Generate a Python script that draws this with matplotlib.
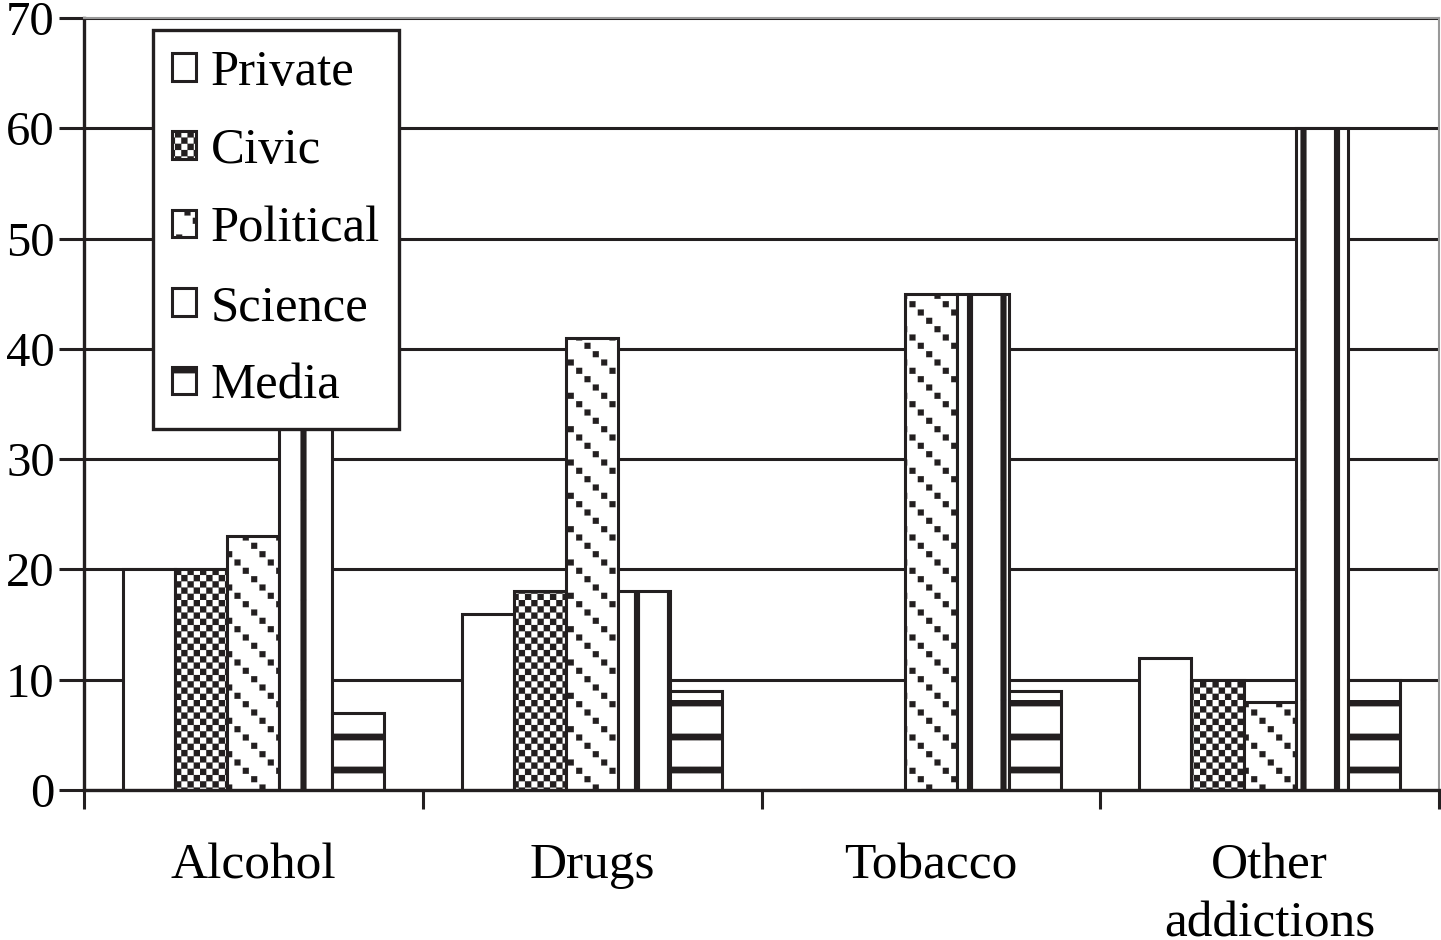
import warnings
import numpy as np
import matplotlib
matplotlib.use("Agg")
import matplotlib.pyplot as plt
import matplotlib.hatch as mhatch
from matplotlib.path import Path

warnings.filterwarnings("ignore")

# ---------------- DATA ----------------
categories = ["Alcohol", "Drugs", "Tobacco", "Other\naddictions"]
series = ["Private", "Civic", "Political", "Science", "Media"]
private = [20, 16, 0, 12]
civic = [20, 18, 0, 10]
political = [23, 41, 45, 8]
science = [35, 18, 45, 60]
media = [7, 9, 9, 10]
y_ticks = [0, 10, 20, 30, 40, 50, 60, 70]


# --------------- HATCHES ----------------
# excel style block patterns, drawn as filled rectangles in the 100px hatch cell
class BlockHatch(mhatch.HatchPatternBase):
    def __init__(self, hatch, density):
        rects = []
        if "c" in hatch:  # checkerboard
            n = 16
            for i in range(n):
                for j in range(n):
                    if (i + j) % 2 == 0:
                        rects.append((i / n, j / n, (i + 1) / n, (j + 1) / n))
        if "d" in hatch:  # dotted diagonal lines
            n = 12
            s = 0.06
            for i in range(n):
                for k in range(3):
                    j = (4 * k - i) % n
                    cx, cy = (i + 0.5) / n, (j + 0.5) / n
                    rects.append((cx - s / 2, cy - s / 2, cx + s / 2, cy + s / 2))
        if "v" in hatch:  # thick vertical lines
            for c in [0.035, 0.37, 0.70]:
                rects.append((c - 0.03, 0.0, c + 0.03, 1.0))
        if "h" in hatch:  # thick horizontal lines
            for c in [0.97, 0.63, 0.30]:
                rects.append((0.0, c - 0.033, 1.0, c + 0.033))
        self.rects = rects
        self.num_vertices = 5 * len(rects)

    def set_vertices_and_codes(self, vertices, codes):
        for k, (x0, y0, x1, y1) in enumerate(self.rects):
            vertices[5 * k:5 * k + 5] = [[x0, y0], [x1, y0], [x1, y1], [x0, y1], [x0, y0]]
            codes[5 * k:5 * k + 5] = [Path.MOVETO, Path.LINETO, Path.LINETO,
                                      Path.LINETO, Path.CLOSEPOLY]


mhatch._hatch_types.append(BlockHatch)

plt.rcParams["font.family"] = ["Liberation Serif", "DejaVu Serif"]
plt.rcParams["hatch.linewidth"] = 0.1
plt.rcParams["hatch.color"] = "#231f20"

INK = "#231f20"
hatches = [None, "c", "d", "v", "h"]
values = [private, civic, political, science, media]

# --------------- PLOT -----------------
fig = plt.figure(figsize=(14.41, 9.40), dpi=100)
ax = fig.add_axes([84 / 1441, 1 - 790 / 940, (1439 - 84) / 1441, (790 - 18) / 940])

x = np.arange(len(categories))
w = 1 / 6.5
handles = []
for i, (name, vals, h) in enumerate(zip(series, values, hatches)):
    b = ax.bar(x + (i - 2) * w, vals, width=w, color="white", edgecolor=INK,
               linewidth=2.2, hatch=h, label=name, zorder=2)
    handles.append(b)

ax.set_xlim(-0.5, 3.5)
ax.set_ylim(0, 70)
ax.set_yticks(y_ticks)
ax.yaxis.grid(True, color=INK, linewidth=2.2)
ax.set_axisbelow(True)

ax.set_xticks(x)
ax.set_xticklabels(categories, fontsize=37, linespacing=1.33)
ax.set_xticks(np.arange(-0.5, 4, 1), minor=True)
ax.tick_params(axis="x", which="major", length=0, pad=38)
ax.tick_params(axis="x", which="minor", length=14, width=2.2, color=INK)
ax.tick_params(axis="y", length=18, width=2.2, color=INK, labelsize=35, pad=3)

for side in ["left", "bottom"]:
    ax.spines[side].set_linewidth(2.4)
    ax.spines[side].set_color(INK)
for side in ["top", "right"]:
    ax.spines[side].set_linewidth(1.5)
    ax.spines[side].set_color("#999999")

leg = ax.legend(handles=handles, loc="upper left",
                bbox_to_anchor=(153 / 1441, 1 - 30 / 940),
                bbox_transform=fig.transFigure, fontsize=36.5,
                handlelength=0.46, handleheight=0.46, handletextpad=0.3,
                labelspacing=0.63, borderpad=0.38, borderaxespad=0,
                fancybox=False, framealpha=1)
leg.get_frame().set_edgecolor(INK)
leg.get_frame().set_linewidth(2.4)
for p in leg.get_patches():
    p.set_linewidth(2.2)

fig.savefig("out.png", dpi=100)
